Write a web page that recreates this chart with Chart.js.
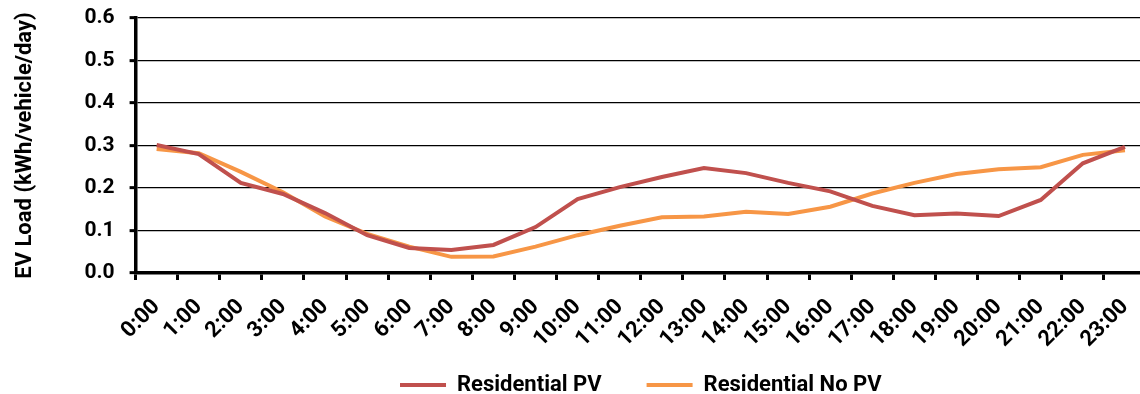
<!DOCTYPE html>
<html>
<head>
<meta charset="utf-8">
<script src="https://cdn.jsdelivr.net/npm/chart.js@4.4.0/dist/chart.umd.min.js"></script>
<style>
  html, body { margin: 0; padding: 0; background: #fff; overflow: hidden; }
  #wrap { width: 1150px; height: 394px; }
</style>
</head>
<body>
<div id="wrap"><canvas id="evChart" width="1150" height="394"></canvas></div>
<script>
  // ===== Chart data =====
  const hours = ["0:00", "1:00", "2:00", "3:00", "4:00", "5:00", "6:00", "7:00", "8:00", "9:00", "10:00", "11:00",
    "12:00", "13:00", "14:00", "15:00", "16:00", "17:00", "18:00", "19:00", "20:00", "21:00", "22:00", "23:00"];

  const residentialPV = [0.301, 0.280, 0.212, 0.186, 0.141, 0.089, 0.059, 0.054, 0.066, 0.108, 0.174, 0.202,
    0.226, 0.247, 0.235, 0.212, 0.192, 0.158, 0.136, 0.140, 0.134, 0.172, 0.258, 0.297];

  const residentialNoPV = [0.292, 0.282, 0.238, 0.190, 0.133, 0.092, 0.062, 0.038, 0.039, 0.062, 0.089, 0.111,
    0.131, 0.133, 0.144, 0.139, 0.156, 0.187, 0.212, 0.233, 0.244, 0.249, 0.278, 0.289];

  const yTicks = [0, 0.1, 0.2, 0.3, 0.4, 0.5, 0.6];

  const FONT = "Roboto";

  // the x labels hang down into the legend band, so don't clip them at the axis box
  const unclipXLabels = {
    id: "unclipXLabels",
    afterLayout(chart) {
      chart.scales.x.bottom = chart.height;
    }
  };

  const ctx = document.getElementById("evChart").getContext("2d");
  new Chart(ctx, {
    type: "line",
    data: {
      labels: hours,
      datasets: [
        {
          label: "Residential PV",
          data: residentialPV,
          borderColor: "#C0504D",
          backgroundColor: "#C0504D",
          borderWidth: 4,
          pointRadius: 0,
          tension: 0
        },
        {
          label: "Residential No PV",
          data: residentialNoPV,
          borderColor: "#F79646",
          backgroundColor: "#F79646",
          borderWidth: 4,
          pointRadius: 0,
          tension: 0
        }
      ]
    },
    plugins: [unclipXLabels],
    options: {
      responsive: false,
      animation: false,
      layout: { padding: { top: 0, right: 4, left: 12, bottom: 0 } },
      plugins: {
        legend: {
          position: "bottom",
          fullSize: false,
          maxHeight: 65,
          labels: {
            usePointStyle: true,
            pointStyle: "line",
            pointStyleWidth: 46,
            boxHeight: 22,
            padding: 45,
            color: "#000",
            font: { family: FONT, size: 22, weight: "bold" }
          }
        },
        tooltip: { enabled: false }
      },
      scales: {
        x: {
          offset: true,
          // keep the rotated labels from pushing the plot area around
          afterFit: (axis) => {
            axis.height = 56;
            axis.paddingLeft = 0;
            axis.paddingRight = 0;
          },
          grid: {
            display: true,
            drawOnChartArea: false,
            drawTicks: true,
            tickLength: 7,
            tickWidth: 3,
            tickColor: "#000",
            offset: true
          },
          border: { display: true, color: "#000", width: 3.5 },
          ticks: {
            autoSkip: false,
            minRotation: 45,
            maxRotation: 45,
            padding: 14,
            color: "#000",
            font: { family: FONT, size: 22, weight: "bold" }
          }
        },
        y: {
          min: 0,
          max: 0.6,
          afterBuildTicks: (axis) => { axis.ticks = yTicks.map(v => ({ value: v })); },
          afterFit: (axis) => {
            axis.paddingTop = 18;
            axis.paddingBottom = 0;
          },
          grid: {
            color: "#000",
            lineWidth: 1.3,
            drawTicks: true,
            tickLength: 6,
            tickWidth: 3,
            tickColor: "#000"
          },
          border: { display: true, color: "#000", width: 3.5 },
          ticks: {
            padding: 15,
            color: "#000",
            font: { family: FONT, size: 21, weight: "bold" },
            callback: (v) => Number(v).toFixed(1)
          },
          title: {
            display: true,
            text: "EV Load (kWh/vehicle/day)",
            color: "#000",
            padding: { top: 0, bottom: 31 },
            font: { family: FONT, size: 22, weight: "bold" }
          }
        }
      }
    }
  });
</script>
</body>
</html>
